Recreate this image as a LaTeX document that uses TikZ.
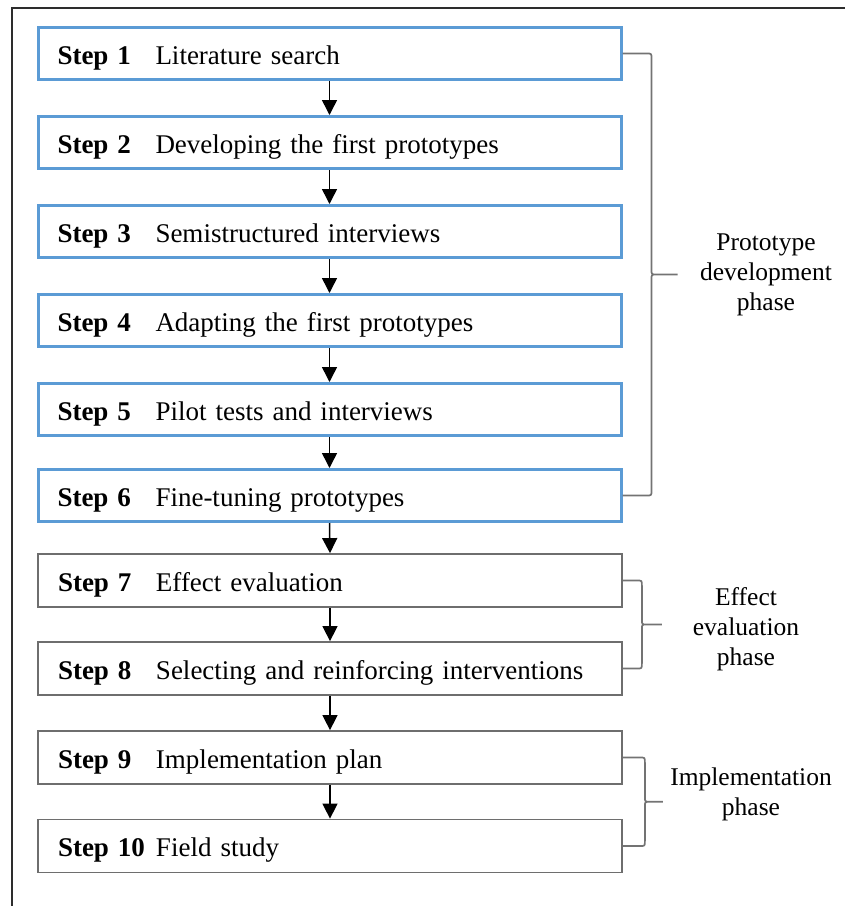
\documentclass[tikz,border=0pt]{standalone}
\usepackage{fontspec}
\setmainfont{Liberation Serif}
\usetikzlibrary{arrows.meta,calc}

\definecolor{stepblue}{RGB}{91,155,213}
\definecolor{boxgray}{RGB}{110,110,110}
\definecolor{bracegray}{RGB}{115,115,115}
\definecolor{framegray}{RGB}{45,45,45}

\newcommand{\stepfont}{\fontsize{27}{30}\selectfont}
\newcommand{\phasefont}{\fontsize{25.5}{30}\selectfont}
\newcommand{\steplabel}[2]{\makebox[98pt][l]{\textbf{Step #1}}#2}

% curly bracket joining the right sides of two step boxes
% #1 top node, #2 bottom node, #3 arm length, #4 tip length
\newcommand{\phasebrace}[4]{%
  \path (#1.east) ++(#3,0) coordinate (bt);
  \path (#2.east) ++(#3,0) coordinate (bb);
  \coordinate (bm) at ($(bt)!0.5!(bb)$);
  \draw[bracestyle]
    (#1.east) -- ([xshift=-5pt]bt) .. controls (bt) .. ([yshift=-5pt]bt)
      -- ([yshift=5pt]bm) .. controls (bm) .. ([xshift=5pt]bm) -- ([xshift=#4]bm)
    ([xshift=5pt]bm) .. controls (bm) .. ([yshift=-5pt]bm)
      -- ([yshift=5pt]bb) .. controls (bb) .. ([xshift=-5pt]bb) -- (#2.east);
}

\tikzset{
  stepbase/.style={rectangle, inner xsep=0pt, inner ysep=0pt,
    text width=544pt, align=left, text height=21pt, text depth=0pt,
    font=\stepfont},
  bluebox/.style={stepbase, draw=stepblue, line width=3pt,
    minimum width=583pt, minimum height=52pt},
  graybox/.style={stepbase, draw=boxgray, line width=1.8pt,
    minimum width=584pt, minimum height=53pt},
  flow/.style={line width=1.5pt, -{Triangle[width=15pt,length=15pt]}},
  bracestyle/.style={draw=bracegray, line width=1.7pt},
  phaselabel/.style={align=center, font=\phasefont, inner sep=0pt},
  outerframe/.style={draw=framegray, line width=1.8pt}
}

\begin{document}
\begin{tikzpicture}[x=1pt,y=1pt]
  \useasboundingbox (0,0) rectangle (845,-906);

  % surrounding frame, running off the right and bottom edges
  \begin{scope}
    \clip (0,0) rectangle (845,-906);
    \draw[outerframe] (12,-8) rectangle (900,-960);
  \end{scope}

  % prototype development phase
  \node[bluebox] (s1) at (329.5,-53.5) {\steplabel{1}{Literature search}};
  \node[bluebox] (s2) at (329.5,-142.5) {\steplabel{2}{Developing the first prototypes}};
  \node[bluebox] (s3) at (329.5,-231.5) {\steplabel{3}{Semistructured interviews}};
  \node[bluebox] (s4) at (329.5,-320.5) {\steplabel{4}{Adapting the first prototypes}};
  \node[bluebox] (s5) at (329.5,-409.5) {\steplabel{5}{Pilot tests and interviews}};
  \node[bluebox] (s6) at (329.5,-495.5) {\steplabel{6}{Fine-tuning prototypes}};

  % effect evaluation phase
  \node[graybox] (s7) at (330,-580.5) {\steplabel{7}{Effect evaluation}};
  \node[graybox] (s8) at (330,-668.5) {\steplabel{8}{Selecting and reinforcing interventions}};

  % implementation phase
  \node[graybox] (s9) at (330,-757.5) {\steplabel{9}{Implementation plan}};
  \node[graybox] (s10) at (330,-846) {\steplabel{10}{Field study}};

  % flow between steps
  \foreach \a/\b in {s1/s2,s2/s3,s3/s4,s4/s5,s5/s6,s6/s7,s7/s8,s8/s9,s9/s10}
    \draw[flow] (\a.south) -- (\b.north);

  % phase brackets and labels
  \phasebrace{s1}{s6}{29pt}{26pt}
  \phasebrace{s7}{s8}{19pt}{20pt}
  \phasebrace{s9}{s10}{22pt}{18pt}

  \node[phaselabel] (p1) at (766,-275) {Prototype\\development\\phase};
  \node[phaselabel] (p2) at (746,-629) {Effect\\evaluation\\phase};
  \node[phaselabel] (p3) at (751,-794) {Implementation\\phase};
\end{tikzpicture}
\end{document}
